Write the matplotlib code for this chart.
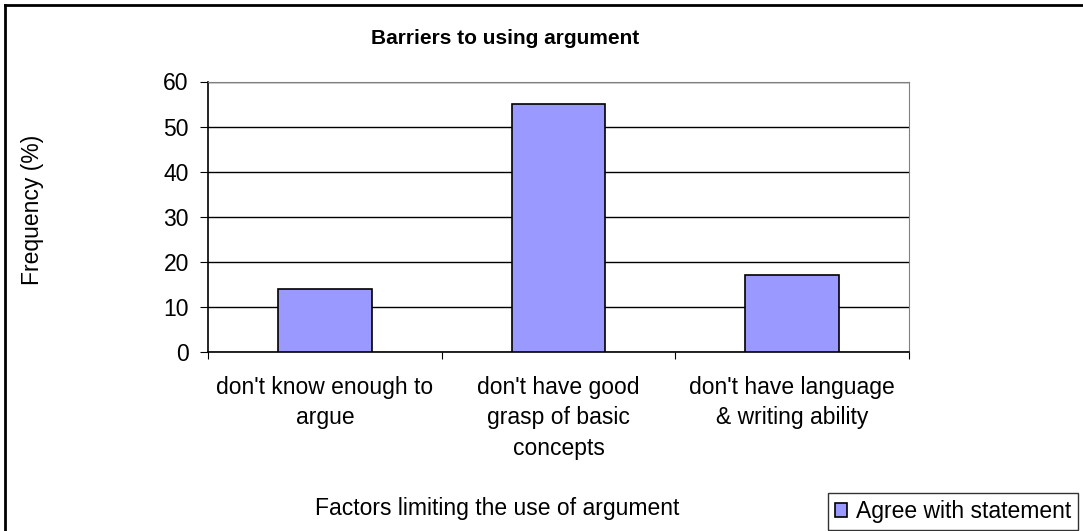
import matplotlib
matplotlib.use("Agg")
import matplotlib.pyplot as plt
from matplotlib.lines import Line2D

# Data
categories = ["don't know enough to\nargue",
              "don't have good\ngrasp of basic\nconcepts",
              "don't have language\n& writing ability"]
values = [14, 55, 17]
series_name = "Agree with statement"

plt.rcParams['font.family'] = ['Liberation Sans', 'DejaVu Sans']
fs = 16.5
W, H = 1083, 531

fig = plt.figure(figsize=(W/100, H/100), dpi=100)
ax = fig.add_axes([208/W, 1 - 352/H, (909-208)/W, (352-81.5)/H])

x = range(len(categories))
ax.bar(x, values, width=0.4, color='#9999ff', edgecolor='black', linewidth=1.2,
       label=series_name, zorder=3)

ax.set_xlim(-0.5, 2.5)
ax.set_ylim(0, 60)
ax.set_yticks(range(0, 61, 10))
ax.yaxis.grid(True, color='black', linewidth=1, zorder=0)
ax.set_xticks([-0.5, 0.5, 1.5, 2.5], minor=False)
ax.set_xticklabels([])
ax.set_xticks(list(x), minor=True)
ax.set_xticklabels(categories, minor=True, fontsize=fs, linespacing=1.42)
ax.tick_params(axis='x', which='minor', length=0, pad=17)
ax.tick_params(axis='x', which='major', length=5, direction='out', color='black')
ax.tick_params(axis='y', length=5.8, direction='out', labelsize=fs, pad=8)

ax.spines['top'].set_color('#808080')
ax.spines['right'].set_color('#808080')
ax.spines['left'].set_linewidth(1.2)
ax.spines['bottom'].set_linewidth(1.2)

fig.text(505/W, 1 - 38/H, "Barriers to using argument",
         ha='center', va='center', fontsize=15, fontweight='bold')
fig.text(33/W, 1 - 210/H, "Frequency (%)", rotation=90,
         ha='center', va='center', fontsize=fs)
fig.text(497/W, 1 - 508/H, "Factors limiting the use of argument",
         ha='center', va='center', fontsize=fs)

leg = fig.legend(loc='lower left', bbox_to_anchor=(828/W, 1/H), fontsize=fs,
                 frameon=True, fancybox=False, edgecolor='black', handlelength=0.55,
                 handleheight=0.55, handletextpad=0.35, borderpad=0.3, borderaxespad=0)
leg.get_frame().set_linewidth(1)

# outer chart border (top and left edges visible)
fig.add_artist(Line2D([5/W, 1], [1 - 5/H, 1 - 5/H], transform=fig.transFigure,
                      color='black', linewidth=2))
fig.add_artist(Line2D([5/W, 5/W], [0, 1 - 5/H], transform=fig.transFigure,
                      color='black', linewidth=2))

fig.savefig("out.png", dpi=100)
